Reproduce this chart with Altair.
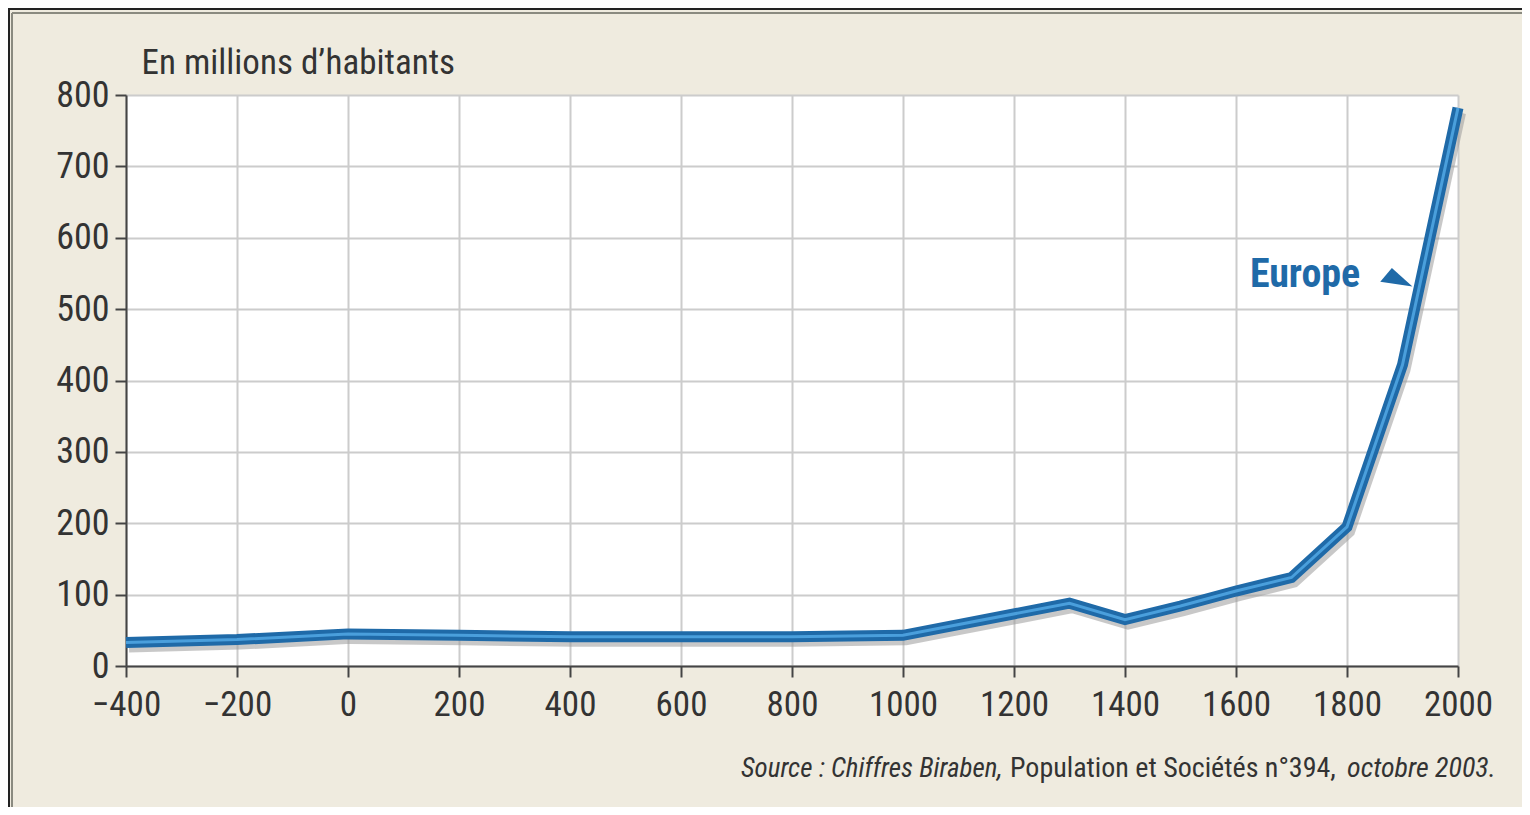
import altair as alt
import pandas as pd

# Data
years = [-400, -200, 0, 200, 400, 600, 800, 1000, 1300, 1400, 1500, 1600, 1700, 1800, 1900, 2000]
population = [33, 37, 45, 43, 41, 41, 41, 43, 88, 65, 84, 105, 124, 195, 422, 782]

x_ticks = list(range(-400, 2001, 200))
y_ticks = list(range(0, 801, 100))

label_text = ["Europe"]
label_year = [1625]
label_value = [531]
arrow_year = [1888]
arrow_value = [544]

source_parts = ["Source : Chiffres Biraben,", "Population et Sociétés n°394,", "octobre 2003."]
source_styles = ["italic", "normal", "italic"]

FONT = "Roboto Condensed, Liberation Sans Narrow, Noto Sans, sans-serif"
BLUE = "#1f6aa8"

df = pd.DataFrame({"year": years, "pop": population})
lab = pd.DataFrame({"year": label_year, "pop": label_value, "text": label_text})
arr = pd.DataFrame({"year": arrow_year, "pop": arrow_value})

xscale = alt.Scale(domain=[-400, 2000], nice=False, zero=False)
yscale = alt.Scale(domain=[0, 800], nice=False)

x_enc = alt.X("year:Q", scale=xscale,
              axis=alt.Axis(values=x_ticks, title=None, format="d", labelPadding=10, tickSize=11,
                            labelFontSize=35, labelFlush=False))
y_enc = alt.Y("pop:Q", scale=yscale,
              axis=alt.Axis(values=y_ticks, title="En millions d’habitants", titleAngle=0,
                            titleAlign="left", titleBaseline="alphabetic", titleX=15, titleY=-22,
                            titleFontSize=35, titleFontWeight="normal", titleColor="#333333",
                            titleFont=FONT, labelPadding=6, tickSize=11, labelFontSize=36))

shadow = alt.Chart(df).mark_line(color="#9a9a9a", strokeWidth=10, opacity=0.55,
                                 xOffset=3, yOffset=5, strokeJoin="miter").encode(x=x_enc, y=y_enc)
outer = alt.Chart(df).mark_line(color=BLUE, strokeWidth=11, strokeJoin="miter").encode(x=x_enc, y=y_enc)
inner = alt.Chart(df).mark_line(color="#4a9fdc", strokeWidth=3, strokeJoin="miter").encode(x=x_enc, y=y_enc)

label = alt.Chart(lab).mark_text(font=FONT, fontSize=40, fontWeight="bold", color=BLUE,
                                 align="left", baseline="alphabetic").encode(
    x=alt.X("year:Q", scale=xscale), y=alt.Y("pop:Q", scale=yscale), text="text:N")
arrow = alt.Chart(arr).mark_point(
    shape="M -0.94 0.24 L -0.24 -0.59 L 1 0.53 Z", filled=True, color=BLUE,
    size=1100, opacity=1, strokeWidth=0).encode(
    x=alt.X("year:Q", scale=xscale), y=alt.Y("pop:Q", scale=yscale))

src_x = [615, 884, 1221]
src_size = [27, 28, 28]
src_layers = []
for txt, style, px, fs in zip(source_parts, source_styles, src_x, src_size):
    src_layers.append(
        alt.Chart(pd.DataFrame({"t": [txt]})).mark_text(
            font=FONT, fontSize=fs, fontStyle=style, color="#333333",
            align="left", baseline="alphabetic").encode(
            x=alt.value(px), y=alt.value(682), text="t:N")
    )

# decorative frame lines (top and left edges of the panel)
frame_top = alt.Chart(pd.DataFrame({"k": [0]})).mark_rule(color="#222222", strokeWidth=2).encode(
    x=alt.value(-118), x2=alt.value(1396), y=alt.value(-86))
frame_top2 = alt.Chart(pd.DataFrame({"k": [0]})).mark_rule(color="#8a8a80", strokeWidth=2).encode(
    x=alt.value(-114), x2=alt.value(1396), y=alt.value(-82))
frame_left = alt.Chart(pd.DataFrame({"k": [0]})).mark_rule(color="#8a8a80", strokeWidth=2).encode(
    x=alt.value(-114), y=alt.value(-82), y2=alt.value(712))
frame_left0 = alt.Chart(pd.DataFrame({"k": [0]})).mark_rule(color="#222222", strokeWidth=2).encode(
    x=alt.value(-117), y=alt.value(-87), y2=alt.value(712))

chart = alt.layer(shadow, outer, inner, label, arrow, *src_layers,
                  frame_top, frame_top2, frame_left, frame_left0).properties(
    width=1332, height=571,
    background="#efebdf",
    padding={"left": 118, "top": 87, "right": 64, "bottom": 141},
    autosize=alt.AutoSizeParams(type="none"),
).configure_view(
    fill="white", stroke=None
).configure_axis(
    labelFont=FONT, labelColor="#333333", tickColor="#444444", domainColor="#444444",
    domainWidth=2, tickWidth=2, gridColor="#cccccc", gridWidth=2, grid=True,
)

chart.save("out.html", embed_options={"renderer": "svg", "actions": False})
